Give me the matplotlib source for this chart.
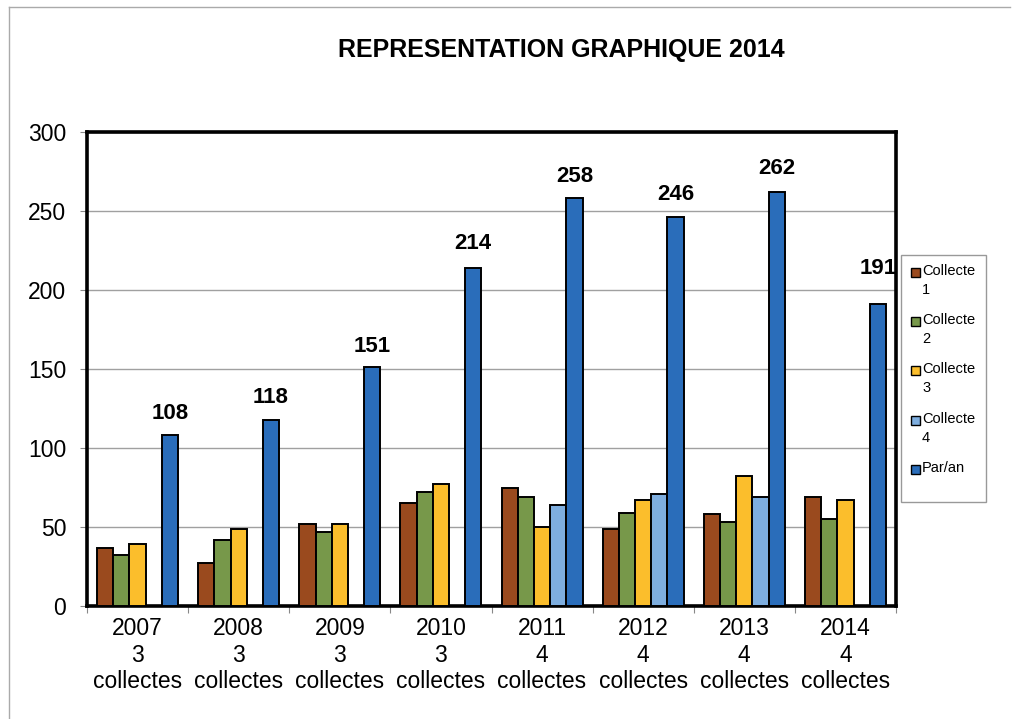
import matplotlib
matplotlib.use("Agg")
import matplotlib.pyplot as plt
import numpy as np
from matplotlib.lines import Line2D
from matplotlib.patches import Rectangle

plt.rcParams['font.family'] = ['Liberation Sans', 'DejaVu Sans']

years = ["2007", "2008", "2009", "2010", "2011", "2012", "2013", "2014"]
n_collectes = ["3", "3", "3", "3", "4", "4", "4", "4"]
collecte1 = [37, 27, 52, 65, 75, 49, 58, 69]
collecte2 = [32, 42, 47, 72, 69, 59, 53, 55]
collecte3 = [39, 49, 52, 77, 50, 67, 82, 67]
collecte4 = [0, 0, 0, 0, 64, 71, 69, 0]
par_an = [108, 118, 151, 214, 258, 246, 262, 191]
series_names = ["Collecte\n1", "Collecte\n2", "Collecte\n3", "Collecte\n4", "Par/an"]
title = "REPRESENTATION GRAPHIQUE 2014"

colors = ["#9A4A1E", "#77984A", "#FBBE2C", "#7EAEDF", "#2A6DBA"]
label_offsets = [22, 22, 21, 24, 22, 23, 24, 36]

W, H = 1024, 719
fig = plt.figure(figsize=(W / 100, H / 100), dpi=100)
ax = fig.add_axes([87/W, 1 - 606/H, (896-87)/W, (606-132)/H])

series = [collecte1, collecte2, collecte3, collecte4, par_an]
x = np.arange(len(years))
bw = 0.16
for i, (vals, c) in enumerate(zip(series, colors)):
    pos = x - 0.4 + bw * (i + 0.5)
    v = np.array(vals, dtype=float)
    mask = v > 0
    ax.bar(pos[mask], v[mask], width=bw, color=c, edgecolor="black",
           linewidth=1.4, zorder=3)

blue_pos = x - 0.4 + bw * 4.5
for xp, v, off in zip(blue_pos, par_an, label_offsets):
    ax.annotate(str(v), (xp, v), xytext=(0, off), textcoords="offset pixels",
                ha="center", va="center", fontsize=16, fontweight="bold", zorder=5)

ax.set_xlim(-0.5, len(years) - 0.5)
ax.set_ylim(0, 300)
ax.set_yticks(np.arange(0, 301, 50))
ax.yaxis.grid(True, color="#A0A0A0", linewidth=1.0, zorder=0)
ax.set_axisbelow(True)
ax.set_xticks(np.arange(-0.5, len(years), 1.0))
ax.set_xticklabels([])
ax.set_xticks(x, minor=True)
ax.set_xticklabels([f"{y}\n{n}\ncollectes" for y, n in zip(years, n_collectes)],
                   minor=True, fontsize=16.5, linespacing=1.2)
ax.tick_params(axis="x", which="minor", length=0, pad=8)
ax.tick_params(axis="x", which="major", length=5, color="#888888", direction="out")
ax.tick_params(axis="y", length=5, color="#888888", labelsize=16.5, pad=10)
for s in ax.spines.values():
    s.set_linewidth(2.6)
    s.set_color("black")

fig.text(561/W, 1 - 50/H, title, ha="center", va="center",
         fontsize=18, fontweight="bold")

# legend drawn manually (box, swatches, wrapped labels)
fig.add_artist(Rectangle((901/W, 1 - 502/H), 85/W, 247/H, transform=fig.transFigure,
                         facecolor="white", edgecolor="#999999", linewidth=1.0, zorder=6))
row_y = [272, 321, 370, 420, 469]
for name, c, ry in zip(series_names, colors, row_y):
    fig.add_artist(Rectangle((911/W, 1 - (ry + 4.5)/H), 9/W, 9/H, transform=fig.transFigure,
                             facecolor=c, edgecolor="black", linewidth=1.0, zorder=7))
    fig.text(922/W, 1 - (ry - 8)/H, name, ha="left", va="top", fontsize=10.5,
             linespacing=1.45, zorder=8)

fig.add_artist(Line2D([9/W, 9/W], [0, 1 - 7/H], transform=fig.transFigure,
                      color="#AAAAAA", linewidth=1.0))
fig.add_artist(Line2D([9/W, 1010/W], [1 - 7/H, 1 - 7/H], transform=fig.transFigure,
                      color="#AAAAAA", linewidth=1.0))

fig.savefig("out.png", dpi=100)
